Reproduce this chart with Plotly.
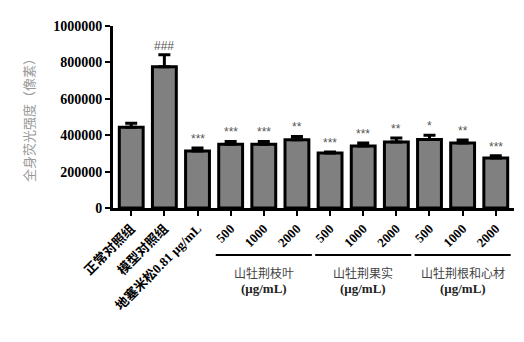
import plotly.graph_objects as go

categories = ["正常对照组", "模型对照组", "地塞米松0.81 μg/mL",
              "500", "1000", "2000", "500 ", "1000 ", "2000 ", "500  ", "1000  ", "2000  "]
means = [443000, 776000, 313000, 350000, 350000, 375000, 302000, 340000, 362000, 377000, 357000, 275000]
err_top = [465000, 842000, 330000, 366000, 366000, 393000, 308000, 357000, 385000, 400000, 373000, 287000]
sig_marks = ["", "###", "***", "***", "***", "**", "***", "***", "**", "*", "**", "***"]
groups = [("山牡荆枝叶", 3, 5), ("山牡荆果实", 6, 8), ("山牡荆根和心材", 9, 11)]
unit_label = "(μg/mL)"
yticks = [0, 200000, 400000, 600000, 800000, 1000000]

xs = list(range(len(categories)))
errs = [t - m for t, m in zip(err_top, means)]

SERIF = "Times New Roman, Liberation Serif, Noto Sans CJK SC"

fig = go.Figure()
fig.add_trace(go.Bar(
    x=xs, y=means, width=0.72,
    marker=dict(color="#808080", line=dict(color="black", width=3)),
    error_y=dict(type="data", symmetric=False, array=errs, arrayminus=[0]*len(errs),
                 color="black", thickness=3, width=6),
))

for i, (s, t) in enumerate(zip(sig_marks, err_top)):
    if s:
        fig.add_annotation(x=i, y=t, text=s, showarrow=False, yanchor="bottom", yshift=0,
                           font=dict(family="Liberation Sans, Arial", size=12, color="#555555"))

for label, a, b in groups:
    fig.add_shape(type="line", xref="x", yref="paper", x0=a - 0.45, x1=b + 0.45,
                  y0=-0.258, y1=-0.258, line=dict(color="black", width=2))
    fig.add_annotation(x=(a + b) / 2, xref="x", yref="paper", y=-0.355, yanchor="middle",
                       text=label, showarrow=False,
                       font=dict(family="Noto Sans CJK SC", size=12, color="#444444"))
    fig.add_annotation(x=(a + b) / 2, xref="x", yref="paper", y=-0.44, yanchor="middle",
                       text="<b>%s</b>" % unit_label, showarrow=False,
                       font=dict(family=SERIF, size=13, color="#222222"))

fig.add_annotation(xref="paper", yref="paper", x=0, xshift=-85, y=0.5, xanchor="center",
                   text="全身荧光强度（像素）", textangle=-90, showarrow=False,
                   font=dict(family="Noto Sans CJK SC", size=13, color="#999999"))

fig.update_layout(
    width=524, height=342,
    margin=dict(l=113, r=10, t=26, b=134),
    plot_bgcolor="white", paper_bgcolor="white",
    showlegend=False, bargap=0.28,
)
fig.update_xaxes(
    range=[-0.55, 11.55], tickmode="array", tickvals=xs,
    ticktext=["<b>%s</b>" % c.strip() for c in categories],
    tickangle=-45, ticks="outside", ticklen=5, tickwidth=2, tickcolor="black",
    showline=True, linecolor="black", linewidth=3, showgrid=False, zeroline=False,
    tickfont=dict(family=SERIF, size=13, color="black"),
)
fig.update_yaxes(
    range=[0, 1000000], tickmode="array", tickvals=yticks,
    ticktext=["<b>%d</b>" % v for v in yticks],
    ticks="outside", ticklen=5, tickwidth=2, tickcolor="black",
    showline=True, linecolor="black", linewidth=3, showgrid=False, zeroline=False,
    tickfont=dict(family=SERIF, size=14, color="black"),
)

fig.write_html("out.html")
